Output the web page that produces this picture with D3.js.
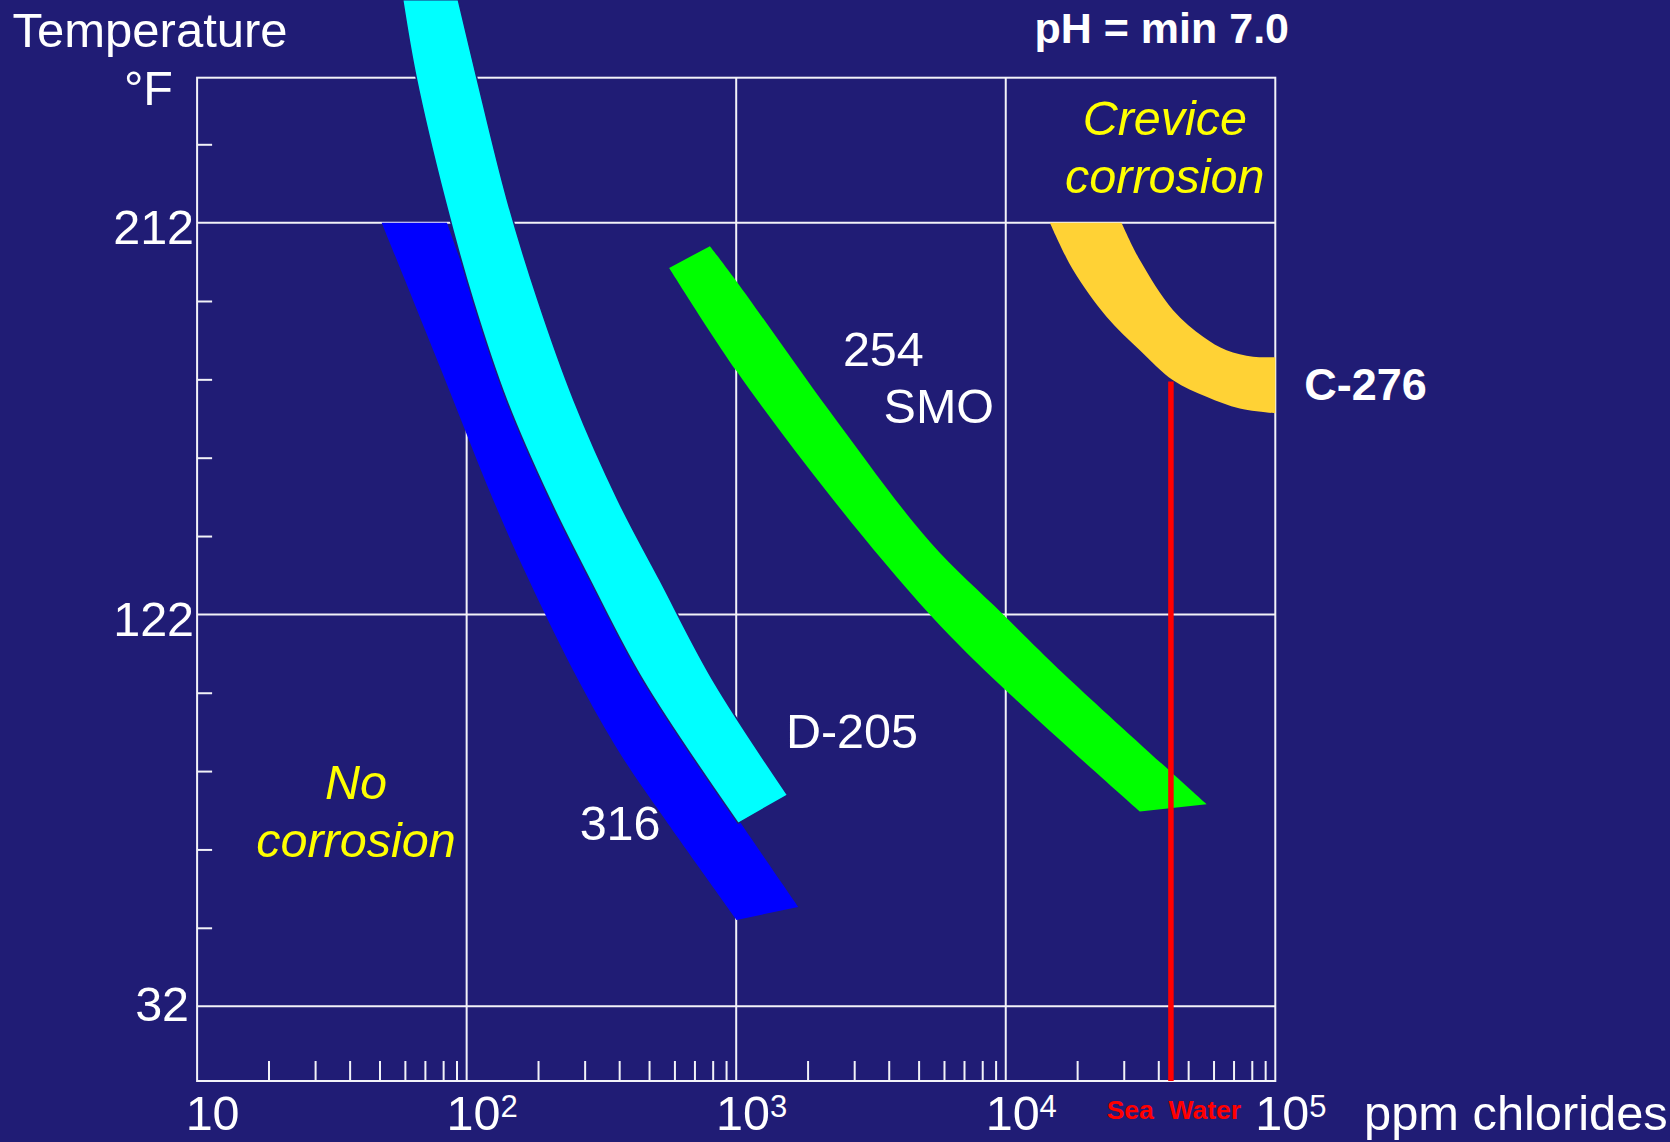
<!DOCTYPE html>
<html><head><meta charset="utf-8">
<script src="https://cdn.jsdelivr.net/npm/d3@7"></script>
<style>
html,body{margin:0;padding:0;background:#201C75;}
svg{display:block;}
text{font-family:"Liberation Sans",Arial,Helvetica,sans-serif;}
</style></head><body>
<svg id="chart" width="1670" height="1142"></svg>
<script>
// ---------- data ----------
const xMajorTicks = [10, 100, 1000, 10000, 100000];
const xTickExponents = ["", "2", "3", "4", "5"];
const xMinorMultipliers = [1.84, 2.74, 3.68, 4.75, 5.9, 7.0, 8.18, 9.17];
const yMajorTicks = [32, 122, 212];
const yMinorTicks = [50, 68, 86, 104, 140, 158, 176, 194, 230];

// bands: [ppm chlorides, temperature °F]
const band316Left  = [[48.4,212],[79.6,178.9],[125.5,148.3],[170.2,129.9],[259.4,106.9],[370.3,90.1],[536,75.5],[1003,51.8]];
const band316Right = [[84.5,212],[107,194.2],[144.4,171.2],[209,148.3],[294,129.9],[462.6,106.9],[1041,74.0],[1698,54.8]];

const bandD205Left  = [[57.9,263.2],[64.9,245.5],[83.1,217.2],[105.5,194.2],[140.7,171.2],[203.7,148.3],[286.7,129.9],[450.8,106.9],[1017,74.0]];
const bandD205Right = [[93.1,263.2],[108.9,245.5],[141.5,217.2],[183.9,194.2],[250,171.2],[364,148.3],[521,129.9],[819.7,106.9],[1551,80.5]];

const band254Left  = [[564,201.6],[1003,177.9],[2226,149.3],[5228,122.0],[10070,104.4],[31440,76.7]];
const band254Right = [[799,206.6],[1003,198.5],[2226,168.6],[5228,138.7],[9779,122.0],[16570,108.1],[55630,78.4]];

const bandC276Outer = [[14580,212],[17780,201.1],[23650,190.4],[31440,182.7],[41770,175.8],[55560,172],[73850,169.3],[100000,168.2]];
const bandC276Inner = [[26890,212],[31440,203.4],[41770,191.9],[53970,185.8],[65920,182.7],[82740,181.2],[100000,181.1]];

const seaWaterPpm = 41000;
const seaWaterTopTemp = 175.5;

// ---------- layout ----------
const W = 1670, H = 1142;
const pLeft = 197.1, pRight = 1275.3, pTop = 77.7, pBottom = 1081;
const BG = "#201C75", LINE = "#F2F2F8";
const FS = 48.5;

const svg = d3.select("#chart");
svg.append("rect").attr("width", W).attr("height", H).attr("fill", BG);

const x = d3.scaleLog().domain([10, 100000]).range([pLeft, pRight]);
const y = d3.scaleLinear().domain([14.8, 245.3]).range([pBottom, pTop]);

// grid lines
const grid = svg.append("g");
grid.selectAll("line.v").data(xMajorTicks.slice(1, -1)).join("line").attr("class", "v")
  .attr("x1", d => x(d)).attr("x2", d => x(d)).attr("y1", pTop).attr("y2", pBottom)
  .attr("stroke", LINE).attr("stroke-width", 2);
grid.selectAll("line.h").data(yMajorTicks).join("line").attr("class", "h")
  .attr("x1", pLeft).attr("x2", pRight).attr("y1", d => y(d)).attr("y2", d => y(d))
  .attr("stroke", LINE).attr("stroke-width", 2);
// frame
svg.append("rect").attr("x", pLeft).attr("y", pTop).attr("width", pRight - pLeft).attr("height", pBottom - pTop)
  .attr("fill", "none").attr("stroke", LINE).attr("stroke-width", 2);

// minor ticks
const xMinorValues = xMajorTicks.slice(0, -1).flatMap(d => xMinorMultipliers.map(m => d * m));
const gxm = svg.append("g").attr("transform", `translate(0,${pBottom})`)
  .call(d3.axisTop(x).tickValues(xMinorValues).tickSize(20).tickFormat(""));
gxm.select(".domain").remove();
gxm.selectAll("line").attr("stroke", LINE).attr("stroke-width", 2);

const gym = svg.append("g").attr("transform", `translate(${pLeft},0)`)
  .call(d3.axisRight(y).tickValues(yMinorTicks).tickSize(15).tickFormat(""));
gym.select(".domain").remove();
gym.selectAll("line").attr("stroke", LINE).attr("stroke-width", 2);

// tick labels
const gy = svg.append("g").attr("transform", `translate(${pLeft},0)`)
  .call(d3.axisLeft(y).tickValues(yMajorTicks).tickSize(0).tickPadding(3).tickFormat(d3.format("d")));
gy.select(".domain").remove();
gy.selectAll("text").attr("fill", "#fff").attr("font-size", FS)
  .attr("font-family", '"Liberation Sans",Arial,sans-serif')
  .attr("dx", d => d === yMajorTicks[0] ? -5 : 0)
  .attr("dy", d => d === yMajorTicks[0] ? "0.3em" : "0.44em");

const gx = svg.append("g").attr("transform", `translate(0,${pBottom})`)
  .call(d3.axisBottom(x).tickValues(xMajorTicks).tickSize(0).tickFormat(() => ""));
gx.select(".domain").remove();
gx.selectAll(".tick text").each(function(d, i) {
  const t = d3.select(this);
  t.attr("fill", "#fff").attr("font-size", FS).attr("x", 15).attr("y", 49).attr("dy", null)
   .attr("text-anchor", "middle").attr("font-family", '"Liberation Sans",Arial,sans-serif');
  t.text(null);
  t.append("tspan").text("10");
  if (xTickExponents[i]) t.append("tspan").attr("font-size", 31).attr("dy", -13).text(xTickExponents[i]);
});

// bands
const lineGen = d3.line().x(d => x(d[0])).y(d => y(d[1])).curve(d3.curveCatmullRom.alpha(0.5));
function bandPath(a, b) {
  const p1 = lineGen(a);
  const p2 = lineGen(b.slice().reverse());
  return p1 + "L" + p2.slice(1) + "Z";
}
svg.append("path").attr("d", bandPath(band316Left, band316Right)).attr("fill", "#0000FF");
svg.append("path").attr("d", bandPath(bandD205Left, bandD205Right)).attr("fill", "#00FFFF")
  .attr("stroke", BG).attr("stroke-width", 1.5);
svg.append("path").attr("d", bandPath(band254Left, band254Right)).attr("fill", "#00FF00");
svg.append("path").attr("d", bandPath(bandC276Outer, bandC276Inner)).attr("fill", "#FFD235");

// sea water line
svg.append("line").attr("x1", x(seaWaterPpm)).attr("x2", x(seaWaterPpm))
  .attr("y1", y(seaWaterTopTemp)).attr("y2", pBottom)
  .attr("stroke", "#FF0000").attr("stroke-width", 5.5);

// texts
function txt(str, px, py, opts = {}) {
  const t = svg.append("text").attr("x", px).attr("y", py).text(str)
    .attr("fill", opts.fill || "#fff").attr("font-size", opts.size || FS)
    .attr("text-anchor", opts.anchor || "start");
  if (opts.bold) t.attr("font-weight", "bold");
  if (opts.italic) t.attr("font-style", "italic");
  if (opts.pre) t.style("white-space", "pre");
  return t;
}
txt("Temperature", 12.5, 47.3, {size: 49});
txt("°F", 173, 105, {anchor: "end"});
txt("pH = min 7.0", 1034.5, 43, {bold: true, size: 43});
txt("ppm chlorides", 1364, 1130, {size: 48.8});

txt("Crevice", x(38920), y(232.1), {anchor: "middle", italic: true, fill: "#FFFF00"});
txt("corrosion", x(38920), y(218.9), {anchor: "middle", italic: true, fill: "#FFFF00"});
txt("No", x(38.85), y(79.6), {anchor: "middle", italic: true, fill: "#FFFF00"});
txt("corrosion", x(38.85), y(66.3), {anchor: "middle", italic: true, fill: "#FFFF00"});

txt("254", x(2488), y(179.1));
txt("SMO", x(3522), y(166.0));
txt("D-205", x(1529), y(91.3));
txt("316", x(262.5), y(70.1));
txt("C-276", x(128000), y(171.2), {bold: true, size: 45});

txt("Sea  Water", x(seaWaterPpm) + 3, pBottom + 38, {anchor: "middle", bold: true, size: 26.5, fill: "#FF0000", pre: true});
</script>
</body></html>
